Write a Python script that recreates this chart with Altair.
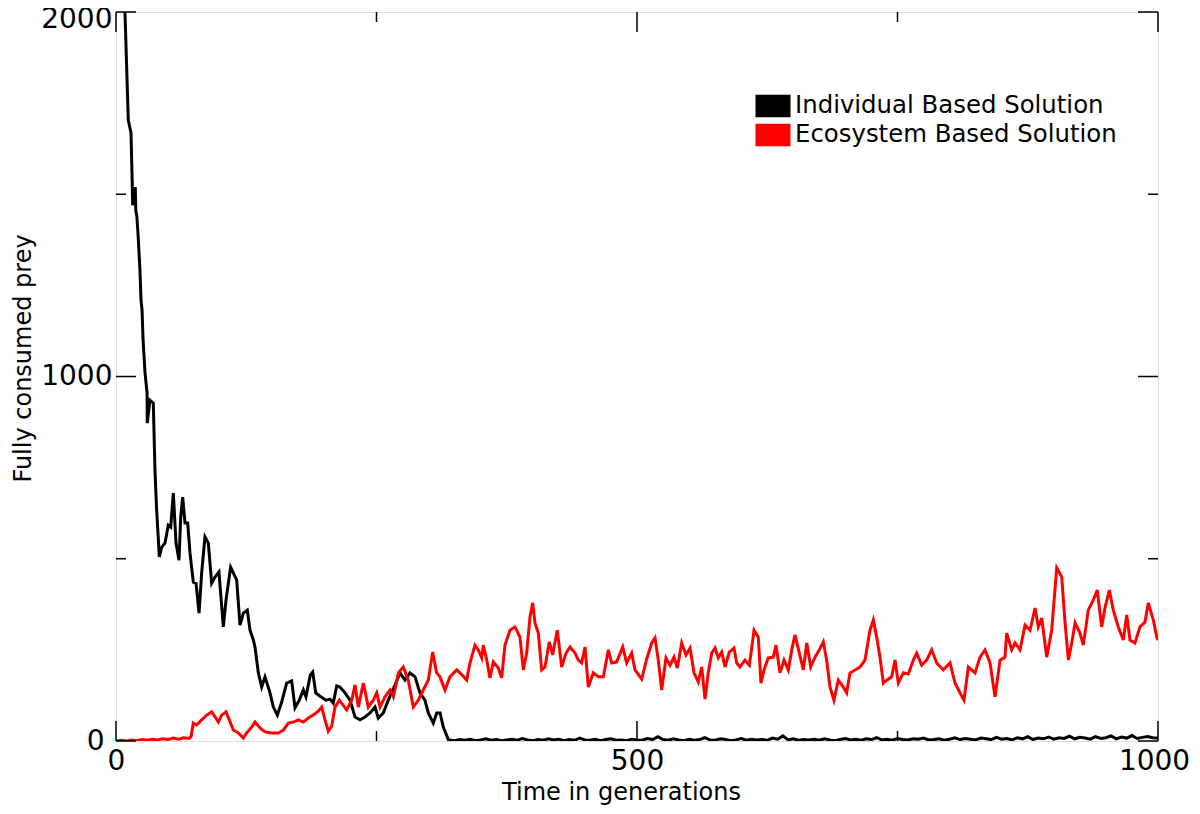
import altair as alt
import pandas as pd

# ---------------- data ----------------
ind_gen = [8.6, 10.6, 11.8, 14.4, 15.5, 16.0, 18.5, 19.0, 20.0, 21.1, 23.0, 24.0, 25.0, 26.0, 27.8,
           29.8, 30.0, 32.6, 35.8, 37.4, 39.0, 41.6, 43.9, 47.0, 50.2, 52.5, 55.0, 57.6, 60.5,
           62.1, 64.0, 66.2, 68.8, 71.0, 74.2, 76.8, 79.7, 82.2, 85.4, 88.6, 91.8, 95.0, 98.8,
           103.0, 105.6, 110.0, 115.8, 119.0, 122.2, 126.0, 128.6, 131.8, 133.4, 136.6, 139.8,
           143.0, 147.8, 151.0, 154.8, 159.0, 163.8, 168.6, 171.8, 175.9, 179.8, 182.3, 186.5,
           188.8, 191.7, 195.8, 201.5, 205.4, 208.5, 211.8, 214.9, 219.8, 224.6, 229.4, 234.2,
           239.0, 243.8, 248.6, 251.7, 256.5, 261.3, 267.8, 272.6, 277.4, 282.1, 287.0, 291.7,
           296.5, 299.7, 304.5, 307.8, 311.0, 314.1, 319.0]
ind_val = [2000, 1813, 1703, 1668, 1540, 1470, 1520, 1455, 1440, 1393, 1292, 1210, 1182, 1100, 1012,
           955, 872, 935, 927, 743, 634, 505, 532, 543, 592, 587, 680, 543, 496,
           614, 669, 598, 598, 516, 436, 433, 351, 461, 560, 543, 433, 450, 464,
           313, 387, 477, 442, 318, 351, 359, 304, 277, 258, 187, 148,
           176, 132, 93, 71, 107, 159, 165, 91, 112, 140, 121, 181,
           189, 132, 123, 112, 115, 104, 151, 148, 132, 112, 66, 58,
           66, 77, 93, 63, 77, 112, 154, 187, 167, 187, 176, 132,
           112, 77, 49, 77, 77, 38, 3]
# near-zero tail of the individual based solution, every 5 generations from 320 to 1000
ind_tail_gen = list(range(320, 1001, 5))
ind_tail_val = [3, 1, 4, 2, 5, 1, 3, 6, 2, 4, 1, 3, 5, 2, 7, 3, 1, 4, 2, 6,
                3, 5, 1, 4, 2, 8, 3, 2, 5, 1, 4, 6, 2, 3, 1, 5, 3, 2, 7, 4,
                12, 4, 2, 6, 3, 1, 5, 2, 4, 9, 3, 2, 6, 4, 1, 3, 7, 2, 5, 3,
                4, 2, 8, 5, 14, 3, 6, 2, 4, 3, 5, 2, 6, 3, 1, 4, 7, 3, 5, 2,
                6, 4, 9, 3, 5, 2, 7, 4, 3, 6, 5, 8, 3, 4, 6, 2, 5, 9, 4, 7,
                5, 3, 8, 6, 4, 10, 5, 7, 3, 9, 6, 12, 4, 8, 6, 11, 5, 9, 7, 13,
                6, 10, 8, 5, 12, 7, 9, 14, 6, 11, 8, 15, 7, 10, 12, 9,
                8]

eco_gen = [0, 5, 10, 15, 20, 25, 30, 35, 40, 45, 50, 55, 60, 65, 70, 72,
           74.2, 77.4, 82.2, 87.0, 91.8, 95.0, 98.2, 101.4, 105.6, 108.7, 112.6, 117.4, 122.2,
           125.4, 130.2, 133.4, 138.2, 143.0, 149.4, 155.8, 160.6, 165.4, 170.2, 175.0, 179.8,
           184.5, 189.3, 194.1, 197.4, 200.6, 203.7, 207.0, 210.2, 214.3, 216.5, 221.4, 226.2,
           229.4, 232.6, 237.4, 242.1, 247.0, 250.2, 253.4, 258.2, 263.0, 266.2, 271.0, 275.7,
           280.5, 285.3, 290.1, 294.9, 299.7, 303.9, 307.7, 310.9, 315.7, 320.5, 327.0, 330.1,
           336.6, 339.7, 344.5, 347.7, 351.0, 352.5, 355.8, 358.9, 362.1, 366.9, 370.1, 373.3,
           378.1, 382.9, 387.7, 390.9, 394.1, 397.3, 399.9, 402.1, 405.3, 408.5, 411.7, 415.8,
           419.1, 423.5, 427.7, 431.9, 435.7, 440.5, 443.7, 446.9, 450.1, 453.3, 458.1, 462.9,
           467.7, 472.5, 475.7, 480.5, 486.3, 490.1, 494.9, 498.1, 504.5, 509.3, 514.1, 517.3,
           520.4, 523.7, 527.8, 531.7, 535.5, 538.7, 542.9, 547.0, 550.9, 554.7, 558.8, 562.1,
           565.3, 568.4, 571.7, 574.9, 578.0, 581.3, 584.5, 588.6, 593.1, 595.7, 598.8, 603.6,
           607.8, 610.1, 612.3, 616.4, 619.0, 621.9, 626.0, 630.8, 633.4, 637.2, 641.1, 645.2,
           648.5, 651.6, 655.8, 659.6, 662.9, 666.7, 670.8, 675.0, 678.8, 682.0, 685.2, 689.0,
           693.2, 698.0, 701.2, 704.4, 709.2, 714.0, 718.8, 723.6, 726.8, 730.0, 733.2, 736.4,
           739.6, 744.4, 747.6, 750.8, 755.6, 760.4, 765.2, 768.4, 773.2, 778.0, 782.8, 787.6,
           793.9, 800.4, 805.2, 810.0, 813.8, 818.0, 824.4, 829.2, 834.0, 838.8, 843.6, 848.4,
           853.2, 854.8, 859.6, 862.8, 867.6, 872.4, 877.2, 882.0, 885.1, 888.4, 893.2, 898.0,
           902.8, 907.6, 910.8, 914.0, 917.2, 920.4, 925.1, 928.3, 933.1, 937.9, 941.7, 945.9,
           949.1, 953.3, 957.1, 961.9, 966.7, 970.0, 973.1, 977.9, 982.7, 987.5, 990.7, 995.5,
           998.8, 1000.0]
eco_val = [0, 2, 0, 3, 1, 4, 2, 5, 3, 6, 4, 8, 5, 9, 7, 12,
           49, 44, 58, 71, 80, 66, 52, 71, 80, 58, 30, 22, 8,
           22, 38, 52, 36, 25, 22, 22, 30, 49, 52, 58, 52,
           63, 71, 82, 93, 58, 27, 41, 93, 112, 104, 85, 112,
           154, 93, 159, 93, 112, 132, 93, 121, 140, 121, 187, 203,
           167, 93, 112, 140, 167, 244, 187, 176, 140, 176, 195, 187,
           167, 214, 263, 250, 228, 263, 222, 173, 217, 200, 173, 263,
           304, 313, 285, 195, 241, 340, 379, 324, 296, 195, 203, 272,
           236, 304, 203, 241, 258, 241, 222, 214, 258, 148, 187, 176,
           176, 250, 214, 217, 258, 214, 241, 195, 170, 225, 269, 283,
           222, 140, 228, 208, 230, 200, 269, 236, 255, 187, 162, 203,
           115, 187, 241, 255, 228, 244, 203, 244, 255, 214, 203, 222,
           208, 255, 304, 285, 159, 195, 228, 230, 263, 187, 222, 195,
           250, 291, 241, 195, 269, 203, 230, 250, 272, 222, 148, 112,
           167, 148, 132, 187, 195, 203, 222, 304, 332, 285, 230, 159,
           167, 176, 222, 159, 187, 184, 222, 241, 208, 222, 250, 214,
           195, 214, 159, 132, 112, 203, 187, 230, 250, 214, 121, 222,
           230, 296, 250, 269, 250, 318, 304, 365, 313, 337, 230, 304,
           475, 450, 324, 222, 269, 324, 296, 263, 359, 387, 414, 313,
           365, 414, 359, 313, 277, 346, 277, 269, 313, 326, 379, 332,
           285, 277]

SERIES = ["Individual Based Solution", "Ecosystem Based Solution"]
COLORS = ["#000000", "#ff0000"]

X_MAJOR = [0, 500, 1000]
X_MINOR = [250, 750]
Y_MAJOR = [0, 1000, 2000]
Y_MINOR = [500, 1500]

# ---------------- chart ----------------
W, H = 1042, 729
FONT = "DejaVu Sans"

df_ind = pd.DataFrame({"gen": ind_gen + ind_tail_gen,
                       "val": ind_val + ind_tail_val,
                       "series": SERIES[0]})
df_eco = pd.DataFrame({"gen": eco_gen, "val": eco_val, "series": SERIES[1]})

xs = alt.Scale(domain=[0, 1000], nice=False, zero=False)
ys = alt.Scale(domain=[0, 2000], nice=False, zero=False)

x_axis = alt.Axis(values=X_MAJOR, title="Time in generations", ticks=False, grid=False,
                  domain=False, labelFontSize=28, labelPadding=6, labelFlush=False,
                  labelOffset={"condition": {"test": "datum.value == 1000", "value": -4}, "value": 0},
                  titleFontSize=24, titleFontWeight="normal", titleBaseline="alphabetic",
                  titleAlign="center", titleX=505, titleY=58,
                  labelFont=FONT, titleFont=FONT, labelColor="black", titleColor="black",
                  format="d")
y_axis = alt.Axis(values=Y_MAJOR, title="Fully consumed prey", ticks=False, grid=False,
                  domain=False, labelFontSize=28, labelFlush=False,
                  labelPadding={"condition": {"test": "datum.value == 0", "value": 12}, "value": 4},
                  labelOffset={"condition": {"test": "datum.value == 2000", "value": 7}, "value": 0},
                  titleFontSize=24, titleFontWeight="normal", titleBaseline="alphabetic",
                  titleAlign="center", titleX=-86, titleY=346,
                  labelFont=FONT, titleFont=FONT, labelColor="black", titleColor="black",
                  format="d")

# legend swatch: stacked thin strokes so the swatch looks like a solid 35x22 block
SWATCH = "".join(f"M-1.4,{y / 100:.2f}H1.4" for y in range(-80, 81, 16))
legend = alt.Legend(title=None, orient="none", legendX=643, legendY=80,
                    symbolType=SWATCH, symbolSize=625, symbolStrokeWidth=2.4,
                    labelFontSize=24.4, labelFont=FONT, labelColor="black", labelLimit=0,
                    labelOffset=8, rowPadding=-2, padding=0)

color = alt.Color("series:N", scale=alt.Scale(domain=SERIES, range=COLORS), legend=legend)


def line_layer(df):
    return alt.Chart(df).mark_line(strokeWidth=3, clip=True).encode(
        x=alt.X("gen:Q", scale=xs, axis=x_axis),
        y=alt.Y("val:Q", scale=ys, axis=y_axis),
        color=color,
    )


def tick_layer(vals, side, length):
    d = pd.DataFrame({"t": vals})
    base = alt.Chart(d).mark_rule(color="black", strokeWidth=1.5)
    if side == "bottom":
        return base.encode(x=alt.X("t:Q", scale=xs, axis=x_axis),
                           y=alt.value(H), y2=alt.value(H - length))
    if side == "top":
        return base.encode(x=alt.X("t:Q", scale=xs, axis=x_axis),
                           y=alt.value(0), y2=alt.value(length))
    if side == "left":
        return base.encode(y=alt.Y("t:Q", scale=ys, axis=y_axis),
                           x=alt.value(0), x2=alt.value(length))
    return base.encode(y=alt.Y("t:Q", scale=ys, axis=y_axis),
                       x=alt.value(W), x2=alt.value(W - length))


layers = [line_layer(df_ind), line_layer(df_eco)]
for side in ["bottom", "top"]:
    layers.append(tick_layer(X_MAJOR, side, 20))
    layers.append(tick_layer(X_MINOR, side, 10))
for side in ["left", "right"]:
    layers.append(tick_layer(Y_MAJOR, side, 20))
    layers.append(tick_layer(Y_MINOR, side, 10))

chart = alt.layer(*layers).properties(
    width=W, height=H,
    autosize=alt.AutoSizeParams(type="none"),
    padding={"left": 108, "top": 4, "right": 34, "bottom": 64},
).configure_view(stroke="black", strokeWidth=1.5).configure(background="white")

chart.save("out.html", embed_options={"renderer": "svg", "actions": False})
